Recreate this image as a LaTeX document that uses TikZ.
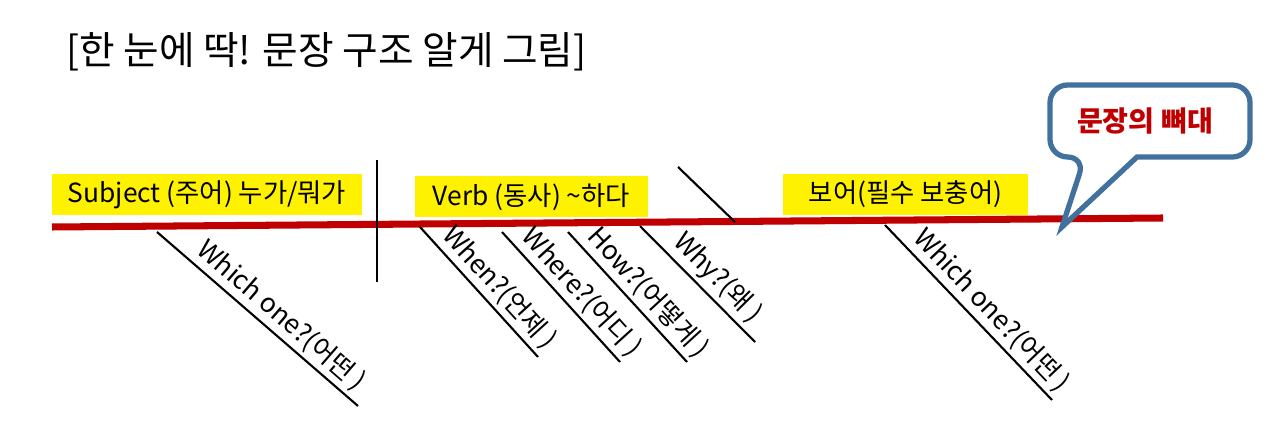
\documentclass[tikz,border=0pt]{standalone}
\usepackage{fontspec}
\setmainfont{Noto Sans CJK KR}
\usetikzlibrary{positioning}
\definecolor{spinered}{RGB}{192,0,0}
\definecolor{bubbleblue}{RGB}{65,113,156}

\begin{document}
\begin{tikzpicture}[
      box/.style={fill=yellow, inner sep=0pt, minimum height=0.82cm, font=\fontsize{15}{18}\selectfont},
      qline/.style={draw=black, line width=1.2pt},
      qtext/.style={pos=0.56, sloped, above, inner sep=2pt, font=\fontsize{15}{18}\selectfont}
    ]
  \useasboundingbox (0,0) rectangle (25.46,-8.44);

  % title
  \node[anchor=west, font=\fontsize{22}{26}\selectfont] (title) at (1.2,-1.04) {[한 눈에 딱! 문장 구조 알게 그림]};

  % yellow labels
  \node[box, minimum width=6.2cm] (subj) at (4.14,-3.89) {Subject (주어) 누가/뭐가};
  \node[box, minimum width=4.66cm] (verb) at (10.63,-3.94) {Verb (동사) \textasciitilde 하다};
  \node[box, minimum width=4.9cm] (comp) at (18.11,-3.89) {보어(필수 보충어)};

  % main line
  \coordinate (spineL) at (1.04,-4.54);
  \coordinate (spineR) at (23.26,-4.36);
  \draw[spinered, line width=4pt] (spineL) -- (spineR);

  % divider
  \coordinate (divT) at (7.54,-3.2);
  \coordinate (divB) at (7.54,-5.64);
  \draw[qline] (divT) -- (divB);

  % modifiers
  \coordinate (w1a) at (3.14,-4.64);   \coordinate (w1b) at (7.16,-8.12);
  \coordinate (whena) at (8.4,-4.54);  \coordinate (whenb) at (10.76,-7.14);
  \coordinate (wherea) at (10.04,-4.64); \coordinate (whereb) at (12.4,-7.24);
  \coordinate (howa) at (11.36,-4.64); \coordinate (howb) at (13.74,-7.24);
  \coordinate (whya) at (12.8,-4.52);  \coordinate (whyb) at (15.1,-6.84);
  \coordinate (obja) at (13.56,-3.34); \coordinate (objb) at (14.7,-4.44);
  \coordinate (w2a) at (17.7,-4.5);    \coordinate (w2b) at (21.04,-8.0);

  \draw[qline] (w1a) -- (w1b) node[qtext] (w1txt) {Which one?(어떤 )};
  \draw[qline] (whena) -- (whenb) node[qtext] (whentxt) {When?(언제 )};
  \draw[qline] (wherea) -- (whereb) node[qtext] (wheretxt) {Where?(어디 )};
  \draw[qline] (howa) -- (howb) node[qtext] (howtxt) {How?(어떻게 )};
  \draw[qline] (whya) -- (whyb) node[qtext] (whytxt) {Why?(왜 )};
  \draw[qline] (obja) -- (objb);
  \draw[qline] (w2a) -- (w2b) node[qtext] (w2txt) {Which one?(어떤 )};

  % callout
  \coordinate (tip) at (21.24,-4.54);
  \draw[bubbleblue, line width=3pt, fill=white] (21.7,-3.14) -- (tip) -- (22.74,-3.14)
    [rounded corners=10pt] -- (25,-3.14) -- (25,-1.7) -- (21,-1.7) -- (21,-3.14) -- cycle;
  \node[text=spinered, font=\bfseries\fontsize{16}{19}\selectfont] (bubble) at (22.9,-2.42) {문장의 뼈대};
\end{tikzpicture}
\end{document}
